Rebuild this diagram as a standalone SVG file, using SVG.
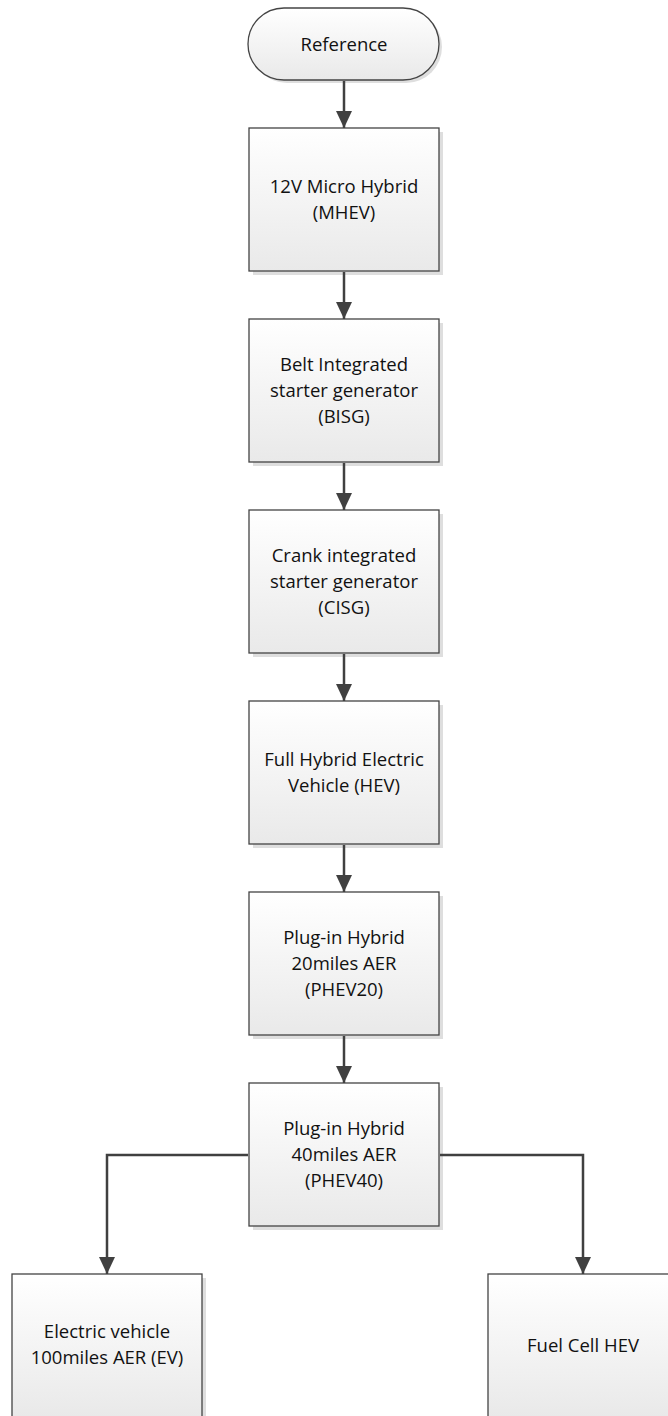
<svg xmlns="http://www.w3.org/2000/svg" width="668" height="1416" viewBox="0 0 668 1416">
<defs>
<linearGradient id="g" x1="0" y1="0" x2="0" y2="1">
<stop offset="0" stop-color="#ffffff"/>
<stop offset="1" stop-color="#e9e9e9"/>
</linearGradient>
<marker id="ah" markerUnits="userSpaceOnUse" markerWidth="18" markerHeight="18" viewBox="0 0 18 18" refX="17" refY="9" orient="auto">
<path d="M0,1 L17,9 L0,17 Z" fill="#404040"/>
</marker>
<style>
.box{fill:url(#g);stroke:#444;stroke-width:1.3}
.sh{fill:#dedede}
.t{font-family:"Open Sans","Liberation Sans",sans-serif;font-size:18.5px;fill:#111;text-anchor:middle}
.c{fill:none;stroke:#404040;stroke-width:2.5;marker-end:url(#ah)}
</style>
</defs>
<rect width="668" height="1416" fill="#ffffff"/>
<g id="reference">
<rect class="sh" x="251" y="11" width="191" height="72" rx="36"/>
<rect class="box" x="248" y="8" width="191" height="72" rx="36"/>
<text class="t" x="344" y="51">Reference</text>
</g>
<g id="mhev">
<rect class="sh" x="253" y="132" width="190" height="143"/>
<rect class="box" x="249" y="128" width="190" height="143"/>
<text class="t" x="344" y="193">12V Micro Hybrid</text>
<text class="t" x="344" y="219">(MHEV)</text>
</g>
<g id="bisg">
<rect class="sh" x="253" y="323" width="190" height="143"/>
<rect class="box" x="249" y="319" width="190" height="143"/>
<text class="t" x="344" y="371">Belt Integrated</text>
<text class="t" x="344" y="397">starter generator</text>
<text class="t" x="344" y="423">(BISG)</text>
</g>
<g id="cisg">
<rect class="sh" x="253" y="514" width="190" height="143"/>
<rect class="box" x="249" y="510" width="190" height="143"/>
<text class="t" x="344" y="562">Crank integrated</text>
<text class="t" x="344" y="588">starter generator</text>
<text class="t" x="344" y="614">(CISG)</text>
</g>
<g id="hev">
<rect class="sh" x="253" y="705" width="190" height="143"/>
<rect class="box" x="249" y="701" width="190" height="143"/>
<text class="t" x="344" y="766">Full Hybrid Electric</text>
<text class="t" x="344" y="792">Vehicle (HEV)</text>
</g>
<g id="phev20">
<rect class="sh" x="253" y="896" width="190" height="143"/>
<rect class="box" x="249" y="892" width="190" height="143"/>
<text class="t" x="344" y="944">Plug-in Hybrid</text>
<text class="t" x="344" y="970">20miles AER</text>
<text class="t" x="344" y="996">(PHEV20)</text>
</g>
<g id="phev40">
<rect class="sh" x="253" y="1087" width="190" height="143"/>
<rect class="box" x="249" y="1083" width="190" height="143"/>
<text class="t" x="344" y="1135">Plug-in Hybrid</text>
<text class="t" x="344" y="1161">40miles AER</text>
<text class="t" x="344" y="1187">(PHEV40)</text>
</g>
<g id="ev">
<rect class="sh" x="16" y="1278" width="190" height="143"/>
<rect class="box" x="12" y="1274" width="190" height="143"/>
<text class="t" x="107" y="1338">Electric vehicle</text>
<text class="t" x="107" y="1364">100miles AER (EV)</text>
</g>
<g id="fchev">
<rect class="sh" x="492" y="1278" width="190" height="143"/>
<rect class="box" x="488" y="1274" width="190" height="143"/>
<text class="t" x="583" y="1352">Fuel Cell HEV</text>
</g>
<g id="connectors">
<path class="c" d="M344,81 V128"/>
<path class="c" d="M344,272 V319"/>
<path class="c" d="M344,463 V510"/>
<path class="c" d="M344,654 V701"/>
<path class="c" d="M344,845 V892"/>
<path class="c" d="M344,1036 V1083"/>
<path class="c" d="M248,1155 H107 V1274"/>
<path class="c" d="M440,1155 H583 V1274"/>
</g>
</svg>
